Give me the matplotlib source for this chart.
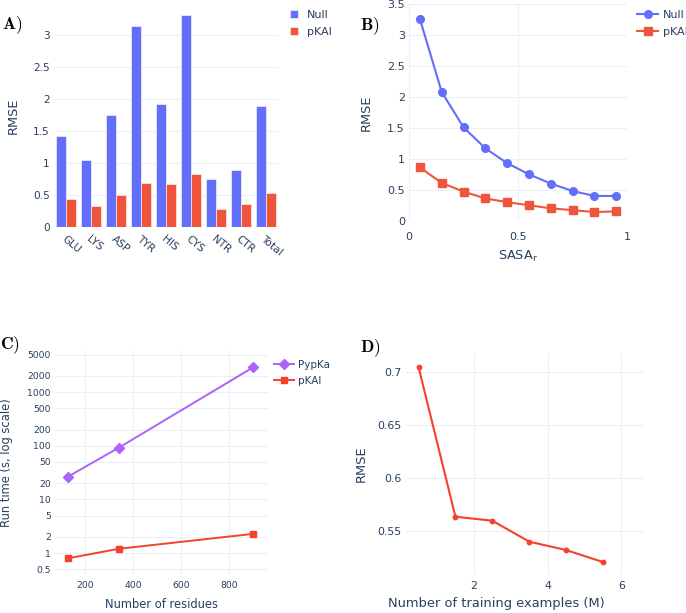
import matplotlib
matplotlib.use('Agg')
import matplotlib.pyplot as plt

# Panel A: RMSE per residue type
residues = ['GLU', 'LYS', 'ASP', 'TYR', 'HIS', 'CYS', 'NTR', 'CTR', 'Total']
null_rmse = [1.42, 1.04, 1.74, 3.14, 1.92, 3.30, 0.74, 0.88, 1.89]
pkai_rmse = [0.44, 0.32, 0.50, 0.69, 0.67, 0.82, 0.28, 0.35, 0.52]

# Panel B: RMSE vs relative SASA
sasa = [0.05, 0.15, 0.25, 0.35, 0.45, 0.55, 0.65, 0.75, 0.85, 0.95]
null_sasa = [3.26, 2.08, 1.51, 1.17, 0.93, 0.75, 0.60, 0.48, 0.40, 0.40]
pkai_sasa = [0.86, 0.61, 0.47, 0.36, 0.30, 0.25, 0.20, 0.17, 0.14, 0.15]

# Panel C: run time vs protein size
n_residues = [130, 340, 900]
pypka_time = [26.7, 91.8, 2900]
pkai_time = [0.80, 1.20, 2.28]

# Panel D: RMSE vs training set size
n_train = [0.5, 1.5, 2.5, 3.5, 4.5, 5.5]
train_rmse = [0.7044, 0.5635, 0.5597, 0.5400, 0.5321, 0.5208]

BLUE = '#636EFA'
RED = '#EF553B'
RED2 = '#F5402C'
PURPLE = '#AB63FA'
TXT = '#2a3f5f'
GRID = '#EBF0F8'

W, H = 686, 613
plt.rcParams['font.family'] = 'DejaVu Sans'
plt.rcParams['mathtext.fontset'] = 'cm'


def add_axes(fig, left, right, top, bottom):
    return fig.add_axes([left / W, 1 - bottom / H, (right - left) / W, (bottom - top) / H])


def style(ax, tick_size, xgrid=True):
    for s in ax.spines.values():
        s.set_visible(False)
    ax.tick_params(length=0, labelsize=tick_size, labelcolor=TXT, pad=3)
    ax.grid(True, axis='y', color=GRID, linewidth=0.8)
    if xgrid:
        ax.grid(True, axis='x', color=GRID, linewidth=0.8)
    ax.set_axisbelow(True)


def fig_legend(fig, ax, x, y, size=8, **kw):
    h, l = ax.get_legend_handles_labels()
    leg = fig.legend(h, l, loc='upper left', bbox_to_anchor=(x / W, 1 - y / H),
                     frameon=False, fontsize=size, labelcolor=TXT, borderpad=0,
                     borderaxespad=0, **kw)
    return leg


fig = plt.figure(figsize=(W / 100, H / 100), dpi=100)

# ---- A ----
axA = add_axes(fig, 54, 278, 4.5, 226.7)
style(axA, 7.6, xgrid=False)
xs = list(range(len(residues)))
bw = 0.4
axA.bar([x - bw / 2 for x in xs], null_rmse, width=bw, color=BLUE, edgecolor='white',
        linewidth=0.4, label='Null')
axA.bar([x + bw / 2 for x in xs], pkai_rmse, width=bw, color=RED, edgecolor='white',
        linewidth=0.4, label='pKAI')
axA.set_xlim(-0.5, len(residues) - 0.5)
axA.set_ylim(0, 3.47)
axA.set_yticks([0, 0.5, 1, 1.5, 2, 2.5, 3])
axA.set_yticklabels(['0', '0.5', '1', '1.5', '2', '2.5', '3'])
axA.set_xticks(xs)
axA.set_xticklabels(residues, rotation=-40, ha='left', va='top', rotation_mode='anchor')
axA.tick_params(axis='x', pad=5)
axA.set_ylabel('RMSE', fontsize=9.3, color=TXT)
axA.yaxis.set_label_coords(-0.154, 0.5)
fig_legend(fig, axA, 290, 10, handlelength=0.75, handleheight=0.75, handletextpad=0.8,
           labelspacing=0.6)

# ---- B ----
axB = add_axes(fig, 409, 627, 4.1, 220.7)
style(axB, 8.0)
axB.plot(sasa, null_sasa, '-o', color=BLUE, lw=1.5, ms=5.5, label='Null')
axB.plot(sasa, pkai_sasa, '-s', color=RED, lw=1.5, ms=5.5, label='pKAI')
axB.set_xlim(0, 1)
axB.set_ylim(0, 3.5)
axB.set_yticks([0, 0.5, 1, 1.5, 2, 2.5, 3, 3.5])
axB.set_yticklabels(['0', '0.5', '1', '1.5', '2', '2.5', '3', '3.5'])
axB.set_xticks([0, 0.5, 1])
axB.set_xticklabels(['0', '0.5', '1'])
axB.tick_params(axis='x', pad=8)
axB.set_ylabel('RMSE', fontsize=9.3, color=TXT)
axB.yaxis.set_label_coords(-0.167, 0.5)
axB.set_xlabel('SASA$_\\mathregular{r}$', fontsize=9.3, color=TXT)
axB.xaxis.set_label_coords(0.5, -0.128)
fig_legend(fig, axB, 637, 10, handlelength=1.9, handletextpad=0.4, labelspacing=0.65)

# ---- C ----
axC = add_axes(fig, 55, 268, 350, 575)
style(axC, 6.7)
axC.plot(n_residues, pypka_time, '-D', color=PURPLE, lw=1.4, ms=5, label='PypKa')
axC.plot(n_residues, pkai_time, '-s', color=RED2, lw=1.4, ms=5, label='pKAI')
axC.set_yscale('log')
axC.set_xlim(75, 962)
axC.set_ylim(0.39, 6100)
cticks = [0.5, 1, 2, 5, 10, 20, 50, 100, 200, 500, 1000, 2000, 5000]
axC.set_yticks(cticks)
axC.set_yticklabels(['0.5', '1', '2', '5', '10', '20', '50', '100', '200', '500', '1000', '2000', '5000'])
axC.minorticks_off()
axC.set_xticks([200, 400, 600, 800])
axC.tick_params(axis='x', pad=4)
axC.set_ylabel('Run time (s, log scale)', fontsize=8.3, color=TXT)
axC.yaxis.set_label_coords(-0.199, 0.5)
axC.set_xlabel('Number of residues', fontsize=8.3, color=TXT)
axC.xaxis.set_label_coords(0.5, -0.104)
fig_legend(fig, axC, 274, 360, size=7.5, handlelength=1.9, handletextpad=0.4,
           labelspacing=0.55)

# ---- D ----
axD = add_axes(fig, 406, 645, 353, 575)
style(axD, 7.9)
axD.plot(n_train, train_rmse, '-o', color=RED2, lw=1.5, ms=3.2)
axD.set_xlim(0.16, 6.64)
axD.set_ylim(0.5086, 0.7176)
axD.set_yticks([0.55, 0.6, 0.65, 0.7])
axD.set_yticklabels(['0.55', '0.6', '0.65', '0.7'])
axD.set_xticks([2, 4, 6])
axD.tick_params(axis='x', pad=4)
axD.set_ylabel('RMSE', fontsize=9.4, color=TXT)
axD.yaxis.set_label_coords(-0.161, 0.5)
axD.set_xlabel('Number of training examples (M)', fontsize=9.4, color=TXT)
axD.xaxis.set_label_coords(0.377, -0.101)

# panel letters
for lbl, x, y in [('A)', 2, 25), ('B)', 360, 26), ('C)', 0, 345), ('D)', 360, 348)]:
    fig.text(x / W, 1 - y / H, '$\\mathbf{%s}$' % lbl, fontsize=12.5, color='black',
             ha='left', va='center')

fig.savefig('out.png', dpi=100)
